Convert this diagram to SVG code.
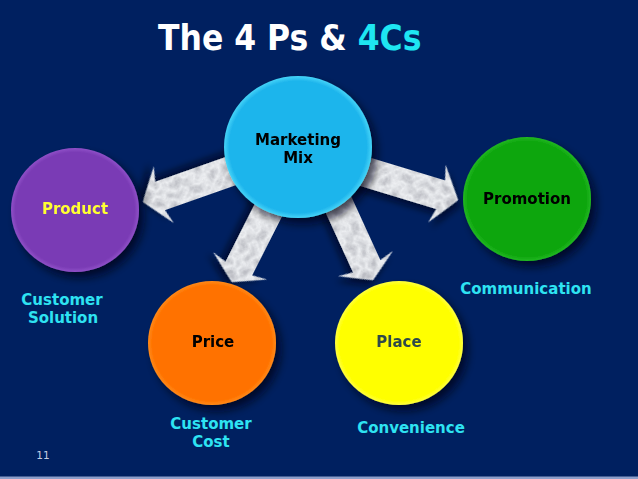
<svg xmlns="http://www.w3.org/2000/svg" width="638" height="479" viewBox="0 0 638 479">
  <defs>
    <style>
      .lbl { font-family: "DejaVu Sans", Verdana, sans-serif; font-weight: bold; font-size: 15px; text-anchor: middle; }
      .cyan { fill: #2ee3f2; }
      .arrow { fill: #eef0f3; filter: url(#marble); }
      .node { filter: url(#shadow); }
    </style>
    <filter id="shadow" x="-30%" y="-30%" width="170%" height="170%">
      <feGaussianBlur in="SourceAlpha" stdDeviation="4"/>
      <feOffset dx="5" dy="6" result="b"/>
      <feFlood flood-color="#000814" flood-opacity="0.7"/>
      <feComposite in2="b" operator="in" result="s"/>
      <feMerge><feMergeNode in="s"/><feMergeNode in="SourceGraphic"/></feMerge>
    </filter>
    <filter id="marble" x="-30%" y="-30%" width="170%" height="170%">
      <feTurbulence type="turbulence" baseFrequency="0.09" numOctaves="4" seed="5" result="n"/>
      <feColorMatrix in="n" type="matrix" values="0 0 0 0 0.5  0 0 0 0 0.51  0 0 0 0 0.55  1.5 0 0 0 -0.12" result="veins"/>
      <feComposite in="veins" in2="SourceAlpha" operator="in" result="v2"/>
      <feGaussianBlur in="SourceAlpha" stdDeviation="3"/>
      <feOffset dx="4" dy="5" result="b"/>
      <feFlood flood-color="#000814" flood-opacity="0.6"/>
      <feComposite in2="b" operator="in" result="s"/>
      <feMerge><feMergeNode in="s"/><feMergeNode in="SourceGraphic"/><feMergeNode in="v2"/></feMerge>
    </filter>
    <radialGradient id="gBlue"><stop offset="0.93" stop-color="#1fb5ec"/><stop offset="1" stop-color="#45d4f8"/></radialGradient>
    <radialGradient id="gPurple"><stop offset="0.93" stop-color="#7a3bb5"/><stop offset="1" stop-color="#9050c8"/></radialGradient>
    <radialGradient id="gGreen"><stop offset="0.93" stop-color="#0ea60e"/><stop offset="1" stop-color="#22b822"/></radialGradient>
    <radialGradient id="gOrange"><stop offset="0.93" stop-color="#ff7200"/><stop offset="1" stop-color="#ff8a18"/></radialGradient>
    <radialGradient id="gYellow"><stop offset="0.93" stop-color="#ffff00"/><stop offset="1" stop-color="#ffff40"/></radialGradient>
  </defs>

  <rect width="638" height="479" fill="#002060"/>
  <rect y="476.5" width="638" height="2.5" fill="#8d9fcb"/>

  <text x="158" y="50" font-family="DejaVu Sans Condensed, DejaVu Sans, sans-serif" font-stretch="condensed" font-weight="bold" font-size="35" fill="#ffffff">The 4 Ps &amp; <tspan fill="#1ee6f2">4Cs</tspan></text>

  <g id="connectors">
    <polygon class="arrow" transform="translate(143,202) rotate(160.6)" points="0,0 -22,-30 -18,-15 -112,-15 -112,15 -18,15 -22,30"/>
    <polygon class="arrow" transform="translate(458,200) rotate(16.9)" points="0,0 -22,-30 -18,-15 -118,-15 -118,15 -18,15 -22,30"/>
    <polygon class="arrow" transform="translate(232,282) rotate(116.9)" points="0,0 -18,-30 -15,-15 -100,-15 -100,15 -15,15 -18,30"/>
    <polygon class="arrow" transform="translate(373,280) rotate(65.4)" points="0,0 -18,-30 -15,-15 -100,-15 -100,15 -15,15 -18,30"/>
  </g>

  <g id="node-marketing-mix" class="node">
    <ellipse cx="298" cy="147" rx="74" ry="71" fill="url(#gBlue)"/>
    <text class="lbl" x="298" y="145" fill="#000000" font-size="15.5">Marketing</text>
    <text class="lbl" x="298" y="163" fill="#000000" font-size="15.5">Mix</text>
  </g>

  <g id="node-product" class="node">
    <ellipse cx="75" cy="210" rx="64" ry="62" fill="url(#gPurple)"/>
    <text class="lbl" x="75" y="214" fill="#ffff33">Product</text>
  </g>

  <g id="node-promotion" class="node">
    <ellipse cx="527" cy="199" rx="64" ry="62" fill="url(#gGreen)"/>
    <text class="lbl" x="527" y="204" fill="#000000">Promotion</text>
  </g>

  <g id="node-price" class="node">
    <ellipse cx="212" cy="343" rx="64" ry="62" fill="url(#gOrange)"/>
    <text class="lbl" x="213" y="347" fill="#000000">Price</text>
  </g>

  <g id="node-place" class="node">
    <ellipse cx="399" cy="343" rx="64" ry="62" fill="url(#gYellow)"/>
    <text class="lbl" x="399" y="347" fill="#2f4a4a">Place</text>
  </g>

  <g id="label-customer-solution">
    <text class="lbl cyan" x="62" y="305">Customer</text>
    <text class="lbl cyan" x="63" y="323">Solution</text>
  </g>
  <g id="label-communication">
    <text class="lbl cyan" x="526" y="294">Communication</text>
  </g>
  <g id="label-customer-cost">
    <text class="lbl cyan" x="211" y="429">Customer</text>
    <text class="lbl cyan" x="211" y="447">Cost</text>
  </g>
  <g id="label-convenience">
    <text class="lbl cyan" x="411" y="433">Convenience</text>
  </g>

  <text x="43" y="459" font-family="DejaVu Sans, sans-serif" font-size="10.5" fill="#c5cde2" text-anchor="middle">11</text>
</svg>
